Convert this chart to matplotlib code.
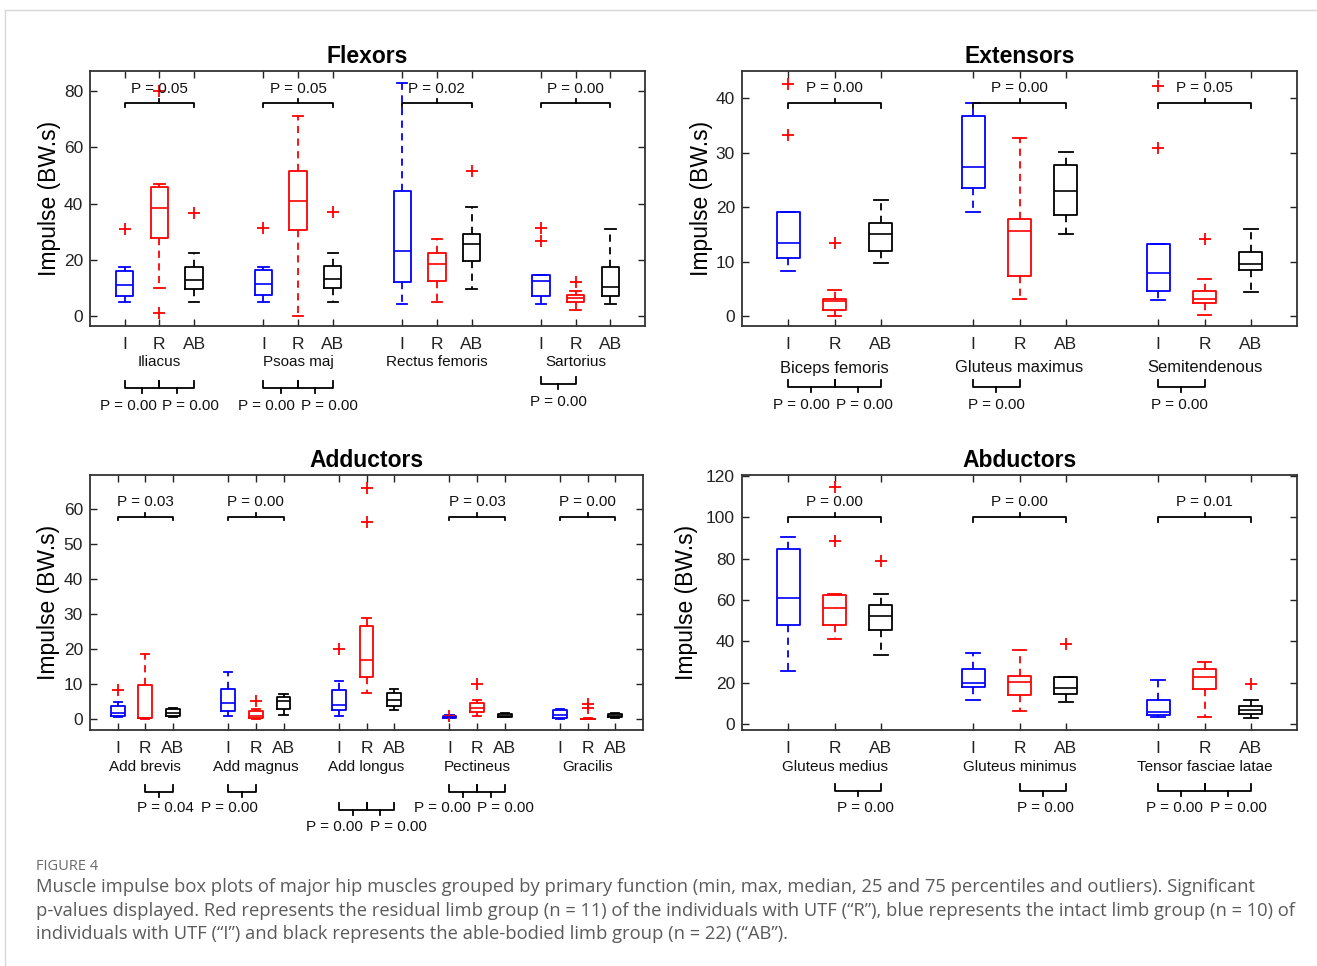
import matplotlib
matplotlib.use("Agg")
import matplotlib.pyplot as plt
from matplotlib.transforms import blended_transform_factory
from matplotlib.lines import Line2D

W, H = 1317, 966
plt.rcParams['font.family'] = ['Liberation Sans', 'DejaVu Sans']

GROUPS = ['I', 'R', 'AB']
COLORS = {'I': '#0000ff', 'R': '#ff0000', 'AB': '#000000'}

# ---------------- Flexors ----------------
FLEX_MUSCLES = ['Iliacus', 'Psoas maj', 'Rectus femoris', 'Sartorius']
FLEX_WLO = {'I': [5.0, 5.0, 4.5, 4.5], 'R': [9.9, 0.0, 4.9, 2.1], 'AB': [5.0, 5.1, 9.6, 4.3]}
FLEX_Q1 = {'I': [7.1, 7.4, 12.1, 7.3], 'R': [27.9, 30.7, 12.5, 5.1], 'AB': [9.8, 9.9, 19.7, 7.1]}
FLEX_MED = {'I': [11.1, 11.3, 23.2, 12.5], 'R': [38.5, 41.0, 18.7, 6.4], 'AB': [13.0, 13.1, 25.8, 10.5]}
FLEX_Q3 = {'I': [16.0, 16.3, 44.4, 14.7], 'R': [45.8, 51.7, 22.5, 7.5], 'AB': [17.5, 17.8, 29.3, 17.4]}
FLEX_WHI = {'I': [17.5, 17.6, 82.9, 14.7], 'R': [47.1, 71.3, 27.3, 8.8], 'AB': [22.5, 22.6, 39.0, 30.9]}
FLEX_FLIERS = {'I': [[30.9], [31.5], [], [31.5, 26.8]],
               'R': [[1.0, 80.0], [], [], [12.1]],
               'AB': [[36.7], [37.2], [51.6], []]}
FLEX_TOP_P = ['P = 0.05', 'P = 0.05', 'P = 0.02', 'P = 0.00']

# ---------------- Extensors ----------------
EXT_MUSCLES = ['Biceps femoris', 'Gluteus maximus', 'Semitendenous']
EXT_WLO = {'I': [8.3, 19.1, 2.9], 'R': [0.1, 3.1, 0.3], 'AB': [9.8, 15.1, 4.5]}
EXT_Q1 = {'I': [10.7, 23.5, 4.7], 'R': [1.1, 7.4, 2.5], 'AB': [11.9, 18.5, 8.5]}
EXT_MED = {'I': [13.5, 27.3, 8.0], 'R': [2.8, 15.6, 3.1], 'AB': [15.0, 23.0, 9.6]}
EXT_Q3 = {'I': [19.1, 36.7, 13.3], 'R': [3.2, 17.8, 4.6], 'AB': [17.1, 27.7, 11.8]}
EXT_WHI = {'I': [19.1, 39.1, 13.3], 'R': [4.8, 32.7, 6.8], 'AB': [21.4, 30.2, 16.0]}
EXT_FLIERS = {'I': [[42.7, 33.2], [], [30.9, 42.3]],
              'R': [[13.5], [], [14.2]],
              'AB': [[], [], []]}
EXT_TOP_P = ['P = 0.00', 'P = 0.00', 'P = 0.05']

# ---------------- Adductors ----------------
ADD_MUSCLES = ['Add brevis', 'Add magnus', 'Add longus', 'Pectineus', 'Gracilis']
ADD_WLO = {'I': [0.5, 0.8, 0.8, 0.3, 0.1], 'R': [0.0, 0.1, 7.6, 0.8, 0.0], 'AB': [0.6, 1.1, 2.5, 0.5, 0.3]}
ADD_Q1 = {'I': [0.9, 2.4, 2.7, 0.4, 0.4], 'R': [0.2, 0.3, 12.0, 2.0, 0.1], 'AB': [0.8, 2.9, 3.8, 0.6, 0.5]}
ADD_MED = {'I': [1.8, 4.5, 4.1, 0.7, 1.2], 'R': [0.4, 0.9, 17.0, 3.2, 0.1], 'AB': [1.7, 5.3, 5.4, 1.0, 1.0]}
ADD_Q3 = {'I': [3.8, 8.7, 8.2, 1.0, 2.5], 'R': [9.9, 2.4, 26.6, 4.6, 0.15], 'AB': [2.9, 6.3, 7.6, 1.5, 1.5]}
ADD_WHI = {'I': [5.0, 13.6, 11.0, 1.1, 3.0], 'R': [18.6, 3.0, 28.9, 5.5, 0.3], 'AB': [3.1, 7.3, 8.7, 1.7, 1.9]}
ADD_FLIERS = {'I': [[8.4], [], [20.0], [0.9], []],
              'R': [[], [5.3], [66.1, 56.5], [10.0], [4.4, 3.2]],
              'AB': [[], [], [], [], []]}
ADD_TOP_P = ['P = 0.03', 'P = 0.00', None, 'P = 0.03', 'P = 0.00']

# ---------------- Abductors ----------------
ABD_MUSCLES = ['Gluteus medius', 'Gluteus minimus', 'Tensor fasciae latae']
ABD_WLO = {'I': [25.6, 11.4, 3.5], 'R': [41.3, 6.4, 3.5], 'AB': [33.6, 10.5, 2.7]}
ABD_Q1 = {'I': [48.1, 17.8, 4.2], 'R': [48.1, 13.8, 16.9], 'AB': [45.5, 14.3, 5.0]}
ABD_MED = {'I': [61.1, 19.9, 5.9], 'R': [56.3, 20.4, 22.8], 'AB': [52.3, 17.5, 6.9]}
ABD_Q3 = {'I': [84.9, 26.8, 11.6], 'R': [62.4, 23.2, 26.4], 'AB': [57.4, 22.7, 8.8]}
ABD_WHI = {'I': [90.7, 34.2, 21.2], 'R': [63.0, 36.0, 29.9], 'AB': [63.0, 22.9, 11.4]}
ABD_FLIERS = {'I': [[], [], []],
              'R': [[114.8, 88.4], [], []],
              'AB': [[78.9], [38.6], [19.3]]}
ABD_TOP_P = ['P = 0.00', 'P = 0.00', 'P = 0.01']

# bottom comparisons: (muscle index, pairs, text x offsets rel. to first box, labels, row)
FLEX_BOTTOM = [(0, [(0, 1), (1, 2)], [0.1, 1.9], ['P = 0.00', 'P = 0.00'], 0),
               (1, [(0, 1), (1, 2)], [0.08, 1.89], ['P = 0.00', 'P = 0.00'], 0),
               (3, [(0, 1)], [0.5], ['P = 0.00'], 1)]
EXT_BOTTOM = [(0, [(0, 1), (1, 2)], [0.28, 1.64], ['P = 0.00', 'P = 0.00'], 0),
              (1, [(0, 1)], [0.5], ['P = 0.00'], 0),
              (2, [(0, 1)], [0.45], ['P = 0.00'], 0)]
ADD_BOTTOM = [(0, [(1, 2)], [1.73], ['P = 0.04'], 0),
              (1, [(0, 1)], [0.04], ['P = 0.00'], 0),
              (2, [(0, 1), (1, 2)], [-0.17, 2.14], ['P = 0.00', 'P = 0.00'], 1),
              (3, [(0, 1), (1, 2)], [-0.27, 2.04], ['P = 0.00', 'P = 0.00'], 0)]
ABD_BOTTOM = [(0, [(1, 2)], [1.66], ['P = 0.00'], 0),
              (1, [(1, 2)], [1.56], ['P = 0.00'], 0),
              (2, [(0, 1), (1, 2)], [0.35, 1.73], ['P = 0.00', 'P = 0.00'], 0)]


def fy(py):
    return 1 - py / H


fig = plt.figure(figsize=(W / 100, H / 100), dpi=100)
fig.patch.set_facecolor('white')

# card border
fig.add_artist(Line2D([5 / W, 1.0], [fy(10), fy(10)], color='#d8d8d8', lw=1.0))
fig.add_artist(Line2D([5 / W, 5 / W], [fy(10), 0.0], color='#d8d8d8', lw=1.0))


def panel(rect, title, muscles, wlo, q1, med, q3, whi, fliers, top_p, top_geo,
          ylim, yticks, bottom, bottom_geo, name_py, name_fs, ylab_x):
    ax = fig.add_axes(rect)
    n = len(muscles)
    base = [1 + 4 * i for i in range(n)]
    for gi, g in enumerate(GROUPS):
        stats = []
        for i in range(n):
            stats.append(dict(med=med[g][i], q1=q1[g][i], q3=q3[g][i],
                              whislo=wlo[g][i], whishi=whi[g][i], fliers=fliers[g][i]))
        c = COLORS[g]
        ax.bxp(stats, positions=[b + gi for b in base], widths=0.5, capwidths=0.3,
               showfliers=True, manage_ticks=False,
               boxprops=dict(color=c, lw=1.3),
               whiskerprops=dict(color=c, lw=1.3, linestyle=(0, (4, 3))),
               capprops=dict(color=c, lw=1.3),
               medianprops=dict(color=c, lw=1.2),
               flierprops=dict(marker='+', markeredgecolor='#ff0000', markersize=8.5,
                               markeredgewidth=1.3, linestyle='none'))
    ax.set_xlim(0, 4 * n)
    ax.set_ylim(*ylim)
    ax.set_yticks(yticks)
    ticks = [b + k for b in base for k in range(3)]
    ax.set_xticks(ticks)
    ax.set_xticklabels(GROUPS * n)
    ax.tick_params(axis='both', which='both', direction='in', length=5, width=1.0,
                   top=True, right=True, labelsize=12.5, colors='#222222')
    ax.tick_params(axis='x', pad=8)
    ax.tick_params(axis='y', pad=5)
    for s in ax.spines.values():
        s.set_linewidth(1.3)
        s.set_color('#333333')
    ax.set_title(title, fontsize=16.5, fontweight='bold', pad=6)
    ax.set_ylabel('Impulse (BW.s)', fontsize=16.5)
    ax.yaxis.set_label_coords(ylab_x, 0.5)

    # top brackets
    e, h, t, ty = top_geo
    for i, p in enumerate(top_p):
        if p is None:
            continue
        x0, x2 = base[i], base[i] + 2
        ax.plot([x0, x0, x2, x2], [e, h, h, e], color='black', lw=1.3, clip_on=False)
        ax.plot([x0 + 1, x0 + 1], [h, t], color='black', lw=1.3, clip_on=False)
        ax.text(x0 + 1, ty, p, ha='center', va='center', fontsize=11, color='#111111')

    # below-axis labels
    tr = blended_transform_factory(ax.transData, fig.transFigure)
    for i, m in enumerate(muscles):
        ax.text(base[i] + 1, fy(name_py), m, transform=tr, ha='center', va='center',
                fontsize=name_fs, color='#111111')
    for (mi, pairs, txs, labs, row) in bottom:
        e, h, t, ty = bottom_geo[row]
        for (a, b) in pairs:
            xa, xb = base[mi] + a, base[mi] + b
            ax.plot([xa, xa, xb, xb], [fy(e), fy(h), fy(h), fy(e)], transform=tr,
                    color='black', lw=1.3, clip_on=False)
            xm = (xa + xb) / 2
            ax.plot([xm, xm], [fy(h), fy(t)], transform=tr, color='black', lw=1.3,
                    clip_on=False)
        for tx, lab in zip(txs, labs):
            ax.text(base[mi] + tx, fy(ty), lab, transform=tr, ha='center', va='center',
                    fontsize=11, color='#111111')
    return ax


top_h = (326 - 71) / H
bot_h = (730 - 475) / H

panel([90 / W, fy(326), 555 / W, top_h], 'Flexors', FLEX_MUSCLES, FLEX_WLO, FLEX_Q1,
      FLEX_MED, FLEX_Q3, FLEX_WHI, FLEX_FLIERS, FLEX_TOP_P, (74.3, 75.7, 77.3, 80.8),
      (-3.5, 87.2), [0, 20, 40, 60, 80], FLEX_BOTTOM,
      [(381, 388, 393, 406), (377, 384, 389, 402)], 362, 11, -0.053)

panel([742 / W, fy(326), 555 / W, top_h], 'Extensors', EXT_MUSCLES, EXT_WLO, EXT_Q1,
      EXT_MED, EXT_Q3, EXT_WHI, EXT_FLIERS, EXT_TOP_P, (38.3, 39.1, 39.9, 41.8),
      (-1.8, 45.0), [0, 10, 20, 30, 40], EXT_BOTTOM,
      [(380, 387, 392, 405)], 368, 11.9, -0.053)

panel([90 / W, fy(730), 553 / W, bot_h], 'Adductors', ADD_MUSCLES, ADD_WLO, ADD_Q1,
      ADD_MED, ADD_Q3, ADD_WHI, ADD_FLIERS, ADD_TOP_P, (56.8, 57.9, 59.0, 62.2),
      (-3.1, 69.8), [0, 10, 20, 30, 40, 50, 60], ADD_BOTTOM,
      [(785, 792, 797, 808), (803, 810, 815, 827)], 767, 11, -0.055)

panel([742 / W, fy(730), 555 / W, bot_h], 'Abductors', ABD_MUSCLES, ABD_WLO, ABD_Q1,
      ABD_MED, ABD_Q3, ABD_WHI, ABD_FLIERS, ABD_TOP_P, (97.9, 100.0, 102.0, 107.2),
      (-2.9, 120.5), [0, 20, 40, 60, 80, 100, 120], ABD_BOTTOM,
      [(784, 791, 796, 808)], 767, 11, -0.080)

# caption
cap_color = '#5a5a5a'
fig.text(36 / W, fy(867), 'FIGURE 4', fontsize=10.5, color='#6a6a6a',
         family=['Open Sans', 'DejaVu Sans'], va='center', ha='left')
CAPTION = [
    'Muscle impulse box plots of major hip muscles grouped by primary function (min, max, median, 25 and 75 percentiles and outliers). Significant',
    'p-values displayed. Red represents the residual limb group (n = 11) of the individuals with UTF (\u201cR\u201d), blue represents the intact limb group (n = 10) of',
    'individuals with UTF (\u201cI\u201d) and black represents the able-bodied limb group (n = 22) (\u201cAB\u201d).',
]
for k, line in enumerate(CAPTION):
    fig.text(36 / W, fy(887 + 23.7 * k), line, fontsize=13.2, color=cap_color,
             family=['Open Sans', 'DejaVu Sans'], va='center', ha='left')

fig.savefig('out.png', dpi=100)
